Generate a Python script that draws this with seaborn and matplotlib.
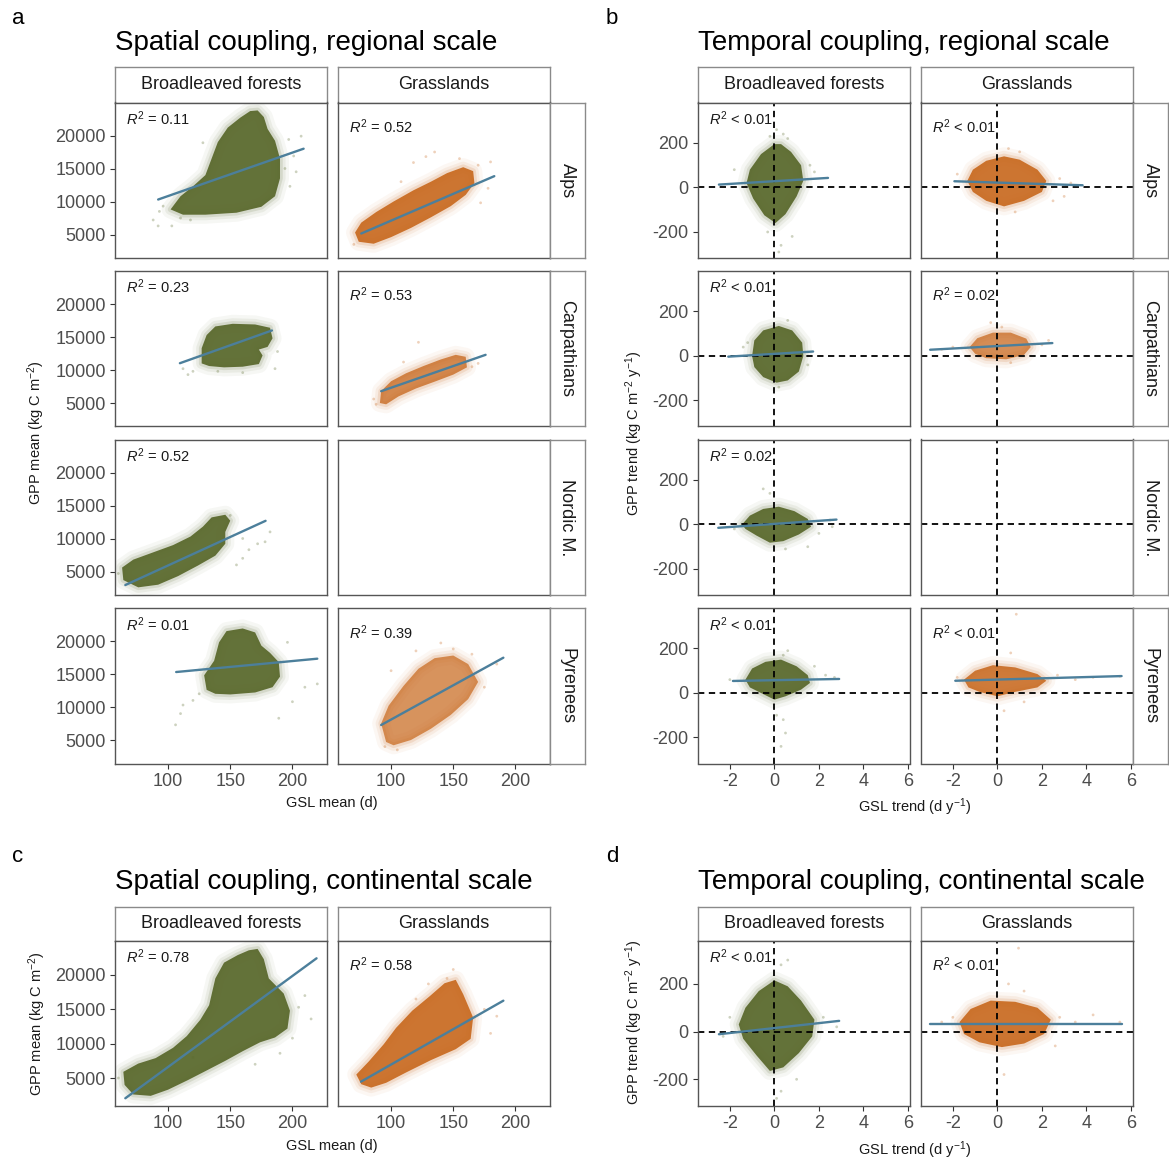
import matplotlib
matplotlib.use("Agg")
import matplotlib.pyplot as plt
import seaborn as sns

# ---------------- DATA ----------------
REGIONS = ["Alps", "Carpathians", "Nordic M.", "Pyrenees"]
LANDCOVERS = ["Broadleaved forests", "Grasslands"]

# x / y ticks
SPATIAL_XTICKS = [100, 150, 200]
SPATIAL_YTICKS = [5000, 10000, 15000, 20000]
TEMPORAL_XTICKS = [-2, 0, 2, 4, 6]
TEMPORAL_YTICKS = [-200, 0, 200]

# R^2 labels
SP_R2_FOREST = ["= 0.11", "= 0.23", "= 0.52", "= 0.01"]
SP_R2_GRASS = ["= 0.52", "= 0.53", None, "= 0.39"]
TE_R2_FOREST = ["< 0.01", "< 0.01", "= 0.02", "< 0.01"]
TE_R2_GRASS = ["< 0.01", "= 0.02", None, "< 0.01"]
CO_SP_R2 = ["= 0.78", "= 0.58"]
CO_TE_R2 = ["< 0.01", "< 0.01"]

# ---- spatial coupling, regional: dense-cloud outlines (GSL mean d, GPP mean), outliers, fit ends
SP_ALPS_FOR = [(102, 8800), (110, 10800), (120, 12300), (130, 14000), (135, 16500), (140, 19000),
               (148, 21200), (158, 22700), (166, 23700), (172, 23800), (177, 22800), (180, 21000),
               (186, 19200), (190, 16500), (190, 13500), (186, 10800), (175, 9200), (155, 8300),
               (130, 8000), (112, 8000)]
SP_ALPS_FOR_PTS = [(93, 8500), (92, 6300), (103, 6300), (128, 18900), (197, 19400), (207, 19900),
                   (201, 16900), (198, 12300), (88, 7200), (110, 7500), (203, 14500), (96, 9300),
                   (118, 7200), (194, 15000)]
SP_ALPS_FOR_FIT = [(92, 10300), (209, 18000)]

SP_ALPS_GRA = [(74, 3900), (71, 5300), (76, 6800), (88, 8400), (102, 10000), (118, 11700),
               (132, 13000), (145, 14300), (158, 15200), (166, 14600), (167, 12800), (160, 11000),
               (148, 9300), (132, 7600), (116, 6000), (100, 4600), (86, 3600)]
SP_ALPS_GRA_PTS = [(118, 15900), (128, 16800), (135, 17500), (170, 15500), (178, 12000),
                   (180, 16000), (70, 3500), (155, 16500), (172, 9800), (108, 13000)]
SP_ALPS_GRA_FIT = [(76, 5150), (183, 13840)]

SP_CARP_FOR = [(127, 11000), (127, 13300), (131, 15300), (138, 16600), (152, 17000), (170, 16900),
               (182, 16400), (184, 14800), (180, 13500), (173, 13100), (176, 12200), (173, 10900),
               (160, 10500), (145, 10400), (133, 10600)]
SP_CARP_FOR_PTS = [(116, 9300), (120, 9800), (140, 9800), (160, 9600), (186, 10200), (188, 12800),
                   (112, 10200)]
SP_CARP_FOR_FIT = [(109.5, 11030), (183.5, 15990)]

SP_CARP_GRA = [(91, 5000), (92, 6800), (100, 8300), (112, 9500), (126, 10600), (140, 11600),
               (152, 12300), (160, 12000), (161, 10400), (150, 9300), (136, 8300), (120, 7200),
               (106, 6000), (96, 4800)]
SP_CARP_GRA_PTS = [(122, 14200), (88, 4800), (86, 5600), (165, 10500), (170, 11000), (110, 11200)]
SP_CARP_GRA_FIT = [(92, 6790), (176, 12300)]

SP_NORD_FOR = [(64, 3700), (63, 5600), (72, 6800), (88, 7900), (104, 9000), (118, 10300),
               (128, 11800), (135, 13200), (146, 13600), (150, 12700), (146, 11000), (146, 9200),
               (138, 7400), (124, 5900), (108, 4300), (92, 3000), (76, 2600)]
SP_NORD_FOR_PTS = [(160, 10000), (165, 8300), (172, 9200), (178, 9500), (182, 11000), (155, 6000),
                   (160, 7000), (150, 13500), (60, 4700)]
SP_NORD_FOR_FIT = [(65.6, 2950), (178.4, 12680)]

SP_PYR_FOR = [(131, 12600), (129, 14800), (137, 17000), (141, 19800), (147, 21500), (160, 21900),
              (170, 21300), (175, 19300), (182, 18200), (189, 16800), (190, 14600), (184, 13000),
              (170, 12200), (150, 11900), (138, 12000)]
SP_PYR_FOR_PTS = [(106, 7300), (110, 9000), (112, 10300), (120, 11000), (189, 8300), (200, 10800),
                  (210, 13000), (220, 13500), (125, 12000), (196, 19800)]
SP_PYR_FOR_FIT = [(106.5, 15300), (220, 17320)]

SP_PYR_GRA = [(96, 4700), (92, 7500), (98, 10200), (110, 13200), (122, 15800), (135, 17400),
              (150, 17800), (162, 16500), (170, 13800), (162, 11200), (148, 8800), (132, 6700),
              (116, 5000), (102, 4200)]
SP_PYR_GRA_PTS = [(140, 19700), (120, 18500), (100, 15500), (150, 18800), (165, 18000),
                  (185, 16500), (95, 4000), (105, 3500), (175, 13000)]
SP_PYR_GRA_FIT = [(92, 7270), (190.3, 17470)]

# ---- temporal coupling, regional (GSL trend, GPP trend)
TE_ALPS_FOR = [(0.0, 195), (-0.6, 150), (-1.1, 80), (-1.25, 20), (-0.95, -50), (-0.45, -125),
               (0.05, -160), (0.5, -120), (1.0, -40), (1.3, 30), (1.2, 100), (0.75, 160), (0.3, 195)]
TE_ALPS_FOR_PTS = [(0.1, 260), (0.4, 240), (0.6, 220), (-0.2, 230), (0.3, -260), (0.2, -290),
                   (-1.8, 80), (1.6, 100), (1.8, 70), (0.8, -220), (-0.3, -200)]
TE_ALPS_FOR_FIT = [(-2.49, 13), (2.41, 43)]

TE_ALPS_GRA = [(-1.35, 30), (-1.1, 80), (-0.5, 120), (0.3, 140), (1.0, 125), (1.8, 80), (2.2, 30),
               (2.0, -20), (1.2, -60), (0.3, -85), (-0.5, -60), (-1.1, -20)]
TE_ALPS_GRA_PTS = [(2.8, 40), (3.3, 20), (3.0, -40), (-1.8, 60), (0.5, 175), (1.0, 160),
                   (0.8, -110), (2.5, -60)]
TE_ALPS_GRA_FIT = [(-1.93, 28), (3.83, 10)]

TE_CARP_FOR = [(-1.0, 0), (-0.9, 70), (-0.5, 115), (0.2, 135), (0.8, 115), (1.25, 60), (1.3, 0),
               (1.1, -70), (0.6, -110), (0.1, -120), (-0.5, -95), (-0.9, -50)]
TE_CARP_FOR_PTS = [(-1.4, 40), (-1.2, 60), (1.5, -40), (0.2, -140), (0.6, 160)]
TE_CARP_FOR_FIT = [(-2.07, -3), (1.74, 20)]

TE_CARP_GRA = [(-1.25, 40), (-0.9, 80), (-0.2, 105), (0.6, 105), (1.3, 78), (1.5, 40), (1.2, 5),
               (0.4, -15), (-0.5, -10), (-1.0, 10)]
TE_CARP_GRA_PTS = [(-2.5, 30), (-2.0, 40), (2.0, 50), (2.3, 70), (0.2, 130), (0.6, -30), (-0.3, 150)]
TE_CARP_GRA_FIT = [(-3.02, 28), (2.47, 58)]

TE_NORD_FOR = [(-1.45, 0), (-1.1, 40), (-0.5, 70), (0.2, 80), (0.9, 60), (1.5, 25), (1.65, -10),
               (1.1, -45), (0.4, -75), (-0.2, -82), (-0.8, -50), (-1.3, -20)]
TE_NORD_FOR_PTS = [(-0.5, 160), (-0.2, 140), (2.5, 20), (2.6, -10), (2.0, -40), (1.5, -100),
                   (-1.8, -20), (0.5, -110)]
TE_NORD_FOR_FIT = [(-2.52, -15), (2.79, 22)]

TE_PYR_FOR = [(-1.3, 60), (-1.0, 110), (-0.4, 140), (0.3, 150), (1.0, 120), (1.5, 80), (1.6, 45),
              (1.2, 15), (0.5, -15), (0.0, -30), (-0.6, 0), (-1.1, 25)]
TE_PYR_FOR_PTS = [(-2.0, 60), (2.3, 80), (2.7, 70), (0.6, 190), (0.4, 170), (0.4, -120),
                  (0.5, -180), (0.3, -240), (0.1, -100), (1.8, 120)]
TE_PYR_FOR_FIT = [(-1.86, 54), (2.91, 63)]

TE_PYR_GRA = [(-1.5, 60), (-1.0, 100), (-0.2, 125), (0.8, 115), (1.8, 85), (2.2, 55), (1.8, 25),
              (0.8, 5), (0.0, -15), (-0.8, 5), (-1.3, 25)]
TE_PYR_GRA_PTS = [(0.85, 354), (2.7, 80), (3.5, 60), (4.3, 70), (5.5, 75), (-1.8, 70), (0.3, -80),
                  (1.2, -40), (0.6, 180)]
TE_PYR_GRA_FIT = [(-1.89, 55), (5.58, 76)]

# ---- continental scale
CO_SP_FOR = [(65, 4000), (64, 5900), (76, 7100), (90, 7900), (104, 9400), (115, 11100), (126, 13500),
             (133, 15600), (138, 19500), (145, 21800), (156, 22900), (165, 23600), (172, 23800),
             (177, 22300), (181, 19500), (193, 17300), (198, 14800), (196, 12200), (186, 10900),
             (174, 10200), (160, 8900), (146, 7500), (130, 6000), (116, 4700), (100, 3300),
             (86, 2400), (72, 2600)]
CO_SP_FOR_PTS = [(200, 10800), (215, 13600), (205, 15300), (190, 8600), (170, 7000), (120, 8000),
                 (210, 17000), (60, 5000)]
CO_SP_FOR_FIT = [(65.6, 2050), (219.4, 22430)]

CO_SP_GRA = [(76, 4100), (72, 5500), (82, 7400), (94, 9900), (104, 12300), (117, 14800),
             (131, 16900), (143, 18800), (152, 19300), (158, 17200), (166, 13800), (164, 10700),
             (152, 9200), (132, 7600), (112, 5800), (96, 4300), (84, 3600)]
CO_SP_GRA_PTS = [(150, 20800), (130, 18700), (145, 19500), (175, 15000), (185, 14000),
                 (180, 11500), (120, 16500)]
CO_SP_GRA_FIT = [(75.8, 4470), (190.3, 16260)]

CO_TE_FOR = [(-1.6, 30), (-1.3, 100), (-0.7, 170), (0.0, 215), (0.6, 190), (1.2, 130), (1.8, 50),
             (1.7, -20), (1.1, -90), (0.4, -150), (-0.2, -165), (-0.8, -100), (-1.4, -30)]
CO_TE_FOR_PTS = [(0.6, 300), (0.3, 280), (0.1, -280), (0.3, -250), (-2.0, 60), (2.2, 60),
                 (2.8, 20), (-2.3, -20), (1.0, -200)]
CO_TE_FOR_FIT = [(-2.49, -11), (2.91, 45)]

CO_TE_GRA = [(-1.7, 40), (-1.2, 95), (-0.3, 130), (0.8, 125), (1.8, 100), (2.4, 50), (2.1, -10),
             (1.2, -50), (0.2, -65), (-0.8, -45), (-1.5, -10)]
CO_TE_GRA_PTS = [(0.95, 350), (2.8, 60), (3.5, 40), (4.3, 70), (5.5, 40), (-2.5, 40), (-2.0, 60),
                 (0.5, 200), (1.2, 170), (0.3, -180), (2.6, -60)]
CO_TE_GRA_FIT = [(-3.02, 33), (5.58, 33)]

# ---------------- STYLE ----------------
sns.set_theme(style="white")
plt.rcParams["font.family"] = ["Liberation Sans", "DejaVu Sans"]
plt.rcParams["mathtext.fontset"] = "custom"
plt.rcParams["mathtext.rm"] = "Liberation Sans"
plt.rcParams["mathtext.it"] = "Liberation Sans:italic"
plt.rcParams["mathtext.bf"] = "Liberation Sans:bold"
plt.rcParams["axes.unicode_minus"] = False

FOREST_COL = "#5b6a2e"
GRASS_COL = "#c8691f"
FIT_COL = "#4c7f9b"
SPINE_COL = "#555555"
STRIP_COL = "#8a8a8a"
TICKLAB_COL = "#4d4d4d"
TXT_COL = "#1a1a1a"

W = H = 1169
fig = plt.figure(figsize=(W / 100, H / 100), dpi=100, facecolor="white")


def rect(left, top, w, h):
    return [left / W, 1 - (top + h) / H, w / W, h / H]


PANEL_W = 211.5
A_COLS = [115, 338]
B_COLS = [698, 921]
ROW_TOPS = [102.5, 271, 439.5, 608]
ROW_H = 155.5
STRIP_TOP = 67
STRIP_H = 35.5
ROW_STRIP_W = 35
C_TOP = 941
C_H = 165
C_STRIP_TOP = 907

SP_XLIM = (57.3, 227.4)
SP_YLIM = (1440, 25000)
CO_SP_YLIM = (923, 24950)
TE_XLIM = (-3.43, 6.07)
TE_YLIM = (-317, 382)
CO_TE_YLIM = (-312, 380)

# soft fringe strokes around each dense cloud: (line width, alpha)
FRINGE = [(13, 0.05), (8, 0.08), (4, 0.14)]


def xy(pairs):
    return [p[0] for p in pairs], [p[1] for p in pairs]


def strip(left, top, w, h, text, rotation=0):
    s = fig.add_axes(rect(left, top, w, h))
    s.set_xticks([])
    s.set_yticks([])
    s.set_facecolor("white")
    for sp in s.spines.values():
        sp.set_color(STRIP_COL)
        sp.set_linewidth(1.0)
    s.text(0.5, 0.5, text, ha="center", va="center", rotation=rotation,
           fontsize=13, color=TXT_COL, transform=s.transAxes)


def panel(left, top, h, xticks, yticks, show_x, show_y):
    ax = fig.add_axes(rect(left, top, PANEL_W, h))
    ax.set_facecolor("white")
    ax.grid(False)
    for sp in ax.spines.values():
        sp.set_color(SPINE_COL)
        sp.set_linewidth(1.0)
        sp.set_zorder(10)
    ax.set_xticks(xticks)
    ax.set_yticks(yticks)
    ax.tick_params(axis="both", direction="out", length=3.6, width=0.8, color="#333333",
                   labelsize=13, labelcolor=TICKLAB_COL, pad=3)
    ax.tick_params(axis="x", bottom=show_x, labelbottom=show_x)
    ax.tick_params(axis="y", left=show_y, labelleft=show_y)
    return ax


def draw(ax, core, pts, fit, color, core_alpha, temporal, r2, r2_off, h, xlim, ylim):
    if temporal:
        ax.axhline(0, color="black", lw=1.3, ls=(0, (3.5, 2.5)), zorder=4)
        ax.axvline(0, color="black", lw=1.3, ls=(0, (3.5, 2.5)), zorder=4)
    if core is not None:
        cx, cy = xy(core)
        for lw, a in FRINGE:
            ax.fill(cx, cy, facecolor="none", edgecolor=color, lw=lw, alpha=a,
                    joinstyle="round", zorder=1)
        ax.fill(cx, cy, facecolor=color, edgecolor="none", alpha=core_alpha, zorder=2)
        px, py = xy(pts)
        sns.scatterplot(x=px, y=py, ax=ax, color=color, s=4, alpha=0.3,
                        edgecolor="none", legend=False, zorder=3)
        fx, fy = xy(fit)
        sns.lineplot(x=fx, y=fy, ax=ax, color=FIT_COL, linewidth=1.7, sort=False,
                     estimator=None, legend=False, zorder=5)
    if r2 is not None:
        ax.text(11 / PANEL_W, 1 - r2_off / h, r"$R^2$ " + r2, transform=ax.transAxes,
                ha="left", va="baseline", fontsize=10.5, color=TXT_COL, zorder=6)
    ax.set_xlim(*xlim)
    ax.set_ylim(*ylim)
    ax.set_xlabel("")
    ax.set_ylabel("")


# ---------------- PANEL a & b (regional grids) ----------------
SP_CLOUDS = [
    [(SP_ALPS_FOR, SP_ALPS_FOR_PTS, SP_ALPS_FOR_FIT, 0.95), (SP_ALPS_GRA, SP_ALPS_GRA_PTS, SP_ALPS_GRA_FIT, 0.92)],
    [(SP_CARP_FOR, SP_CARP_FOR_PTS, SP_CARP_FOR_FIT, 0.95), (SP_CARP_GRA, SP_CARP_GRA_PTS, SP_CARP_GRA_FIT, 0.78)],
    [(SP_NORD_FOR, SP_NORD_FOR_PTS, SP_NORD_FOR_FIT, 0.95), (None, None, None, 0)],
    [(SP_PYR_FOR, SP_PYR_FOR_PTS, SP_PYR_FOR_FIT, 0.95), (SP_PYR_GRA, SP_PYR_GRA_PTS, SP_PYR_GRA_FIT, 0.72)],
]
TE_CLOUDS = [
    [(TE_ALPS_FOR, TE_ALPS_FOR_PTS, TE_ALPS_FOR_FIT, 0.95), (TE_ALPS_GRA, TE_ALPS_GRA_PTS, TE_ALPS_GRA_FIT, 0.92)],
    [(TE_CARP_FOR, TE_CARP_FOR_PTS, TE_CARP_FOR_FIT, 0.95), (TE_CARP_GRA, TE_CARP_GRA_PTS, TE_CARP_GRA_FIT, 0.75)],
    [(TE_NORD_FOR, TE_NORD_FOR_PTS, TE_NORD_FOR_FIT, 0.95), (None, None, None, 0)],
    [(TE_PYR_FOR, TE_PYR_FOR_PTS, TE_PYR_FOR_FIT, 0.95), (TE_PYR_GRA, TE_PYR_GRA_PTS, TE_PYR_GRA_FIT, 0.88)],
]
COLORS = [FOREST_COL, GRASS_COL]
R2_OFF = [22.5, 30.5]

for cols, clouds, r2s, temporal in [
    (A_COLS, SP_CLOUDS, [SP_R2_FOREST, SP_R2_GRASS], False),
    (B_COLS, TE_CLOUDS, [TE_R2_FOREST, TE_R2_GRASS], True),
]:
    xlim = TE_XLIM if temporal else SP_XLIM
    ylim = TE_YLIM if temporal else SP_YLIM
    xt = TEMPORAL_XTICKS if temporal else SPATIAL_XTICKS
    yt = TEMPORAL_YTICKS if temporal else SPATIAL_YTICKS
    for c, lc in enumerate(LANDCOVERS):
        strip(cols[c], STRIP_TOP, PANEL_W, STRIP_H, lc)
    for r, reg in enumerate(REGIONS):
        for c in range(2):
            ax = panel(cols[c], ROW_TOPS[r], ROW_H, xt, yt,
                       show_x=(r == 3), show_y=(c == 0))
            core, pts, fit, alpha = clouds[r][c]
            draw(ax, core, pts, fit, COLORS[c], alpha, temporal, r2s[c][r], R2_OFF[c],
                 ROW_H, xlim, ylim)
        strip(cols[1] + PANEL_W, ROW_TOPS[r], ROW_STRIP_W, ROW_H, reg, rotation=-90)

# ---------------- PANEL c & d (continental) ----------------
CO_SP = [(CO_SP_FOR, CO_SP_FOR_PTS, CO_SP_FOR_FIT, 0.95), (CO_SP_GRA, CO_SP_GRA_PTS, CO_SP_GRA_FIT, 0.92)]
CO_TE = [(CO_TE_FOR, CO_TE_FOR_PTS, CO_TE_FOR_FIT, 0.95), (CO_TE_GRA, CO_TE_GRA_PTS, CO_TE_GRA_FIT, 0.92)]

for cols, clouds, r2s, temporal in [(A_COLS, CO_SP, CO_SP_R2, False), (B_COLS, CO_TE, CO_TE_R2, True)]:
    xlim = TE_XLIM if temporal else SP_XLIM
    ylim = CO_TE_YLIM if temporal else CO_SP_YLIM
    xt = TEMPORAL_XTICKS if temporal else SPATIAL_XTICKS
    yt = TEMPORAL_YTICKS if temporal else SPATIAL_YTICKS
    for c, lc in enumerate(LANDCOVERS):
        strip(cols[c], C_STRIP_TOP, PANEL_W, C_TOP - C_STRIP_TOP, lc)
        ax = panel(cols[c], C_TOP, C_H, xt, yt, show_x=True, show_y=(c == 0))
        core, pts, fit, alpha = clouds[c]
        draw(ax, core, pts, fit, COLORS[c], alpha, temporal, r2s[c], R2_OFF[c], C_H, xlim, ylim)

# ---------------- TEXT ----------------
def ftext(x, y, s, **kw):
    fig.text(x / W, 1 - y / H, s, **kw)


ftext(12, 18, "a", fontsize=16, va="center", ha="left", color="black")
ftext(606, 18, "b", fontsize=16, va="center", ha="left", color="black")
ftext(12, 857, "c", fontsize=16, va="center", ha="left", color="black")
ftext(606, 857, "d", fontsize=16, va="center", ha="left", color="black")

ftext(115, 49.5, "Spatial coupling, regional scale", fontsize=20, va="baseline", ha="left", color="black")
ftext(698, 49.5, "Temporal coupling, regional scale", fontsize=20, va="baseline", ha="left", color="black")
ftext(115, 889, "Spatial coupling, continental scale", fontsize=20, va="baseline", ha="left", color="black")
ftext(698, 889, "Temporal coupling, continental scale", fontsize=20, va="baseline", ha="left", color="black")

GPP_MEAN_LAB = r"GPP mean (kg C m$^{-2}$)"
GPP_TREND_LAB = r"GPP trend (kg C m$^{-2}$ y$^{-1}$)"
GSL_MEAN_LAB = "GSL mean (d)"
GSL_TREND_LAB = r"GSL trend (d y$^{-1}$)"

ftext(36, 433, GPP_MEAN_LAB, fontsize=10.5, rotation=90, va="center", ha="center", color=TXT_COL)
ftext(634, 433, GPP_TREND_LAB, fontsize=10.5, rotation=90, va="center", ha="center", color=TXT_COL)
ftext(37, 1024, GPP_MEAN_LAB, fontsize=10.5, rotation=90, va="center", ha="center", color=TXT_COL)
ftext(634, 1022, GPP_TREND_LAB, fontsize=10.5, rotation=90, va="center", ha="center", color=TXT_COL)

ftext(332, 803, GSL_MEAN_LAB, fontsize=10.5, va="center", ha="center", color=TXT_COL)
ftext(915, 807, GSL_TREND_LAB, fontsize=10.5, va="center", ha="center", color=TXT_COL)
ftext(332, 1146, GSL_MEAN_LAB, fontsize=10.5, va="center", ha="center", color=TXT_COL)
ftext(915, 1150, GSL_TREND_LAB, fontsize=10.5, va="center", ha="center", color=TXT_COL)

fig.savefig("out.png", dpi=100, facecolor="white")
